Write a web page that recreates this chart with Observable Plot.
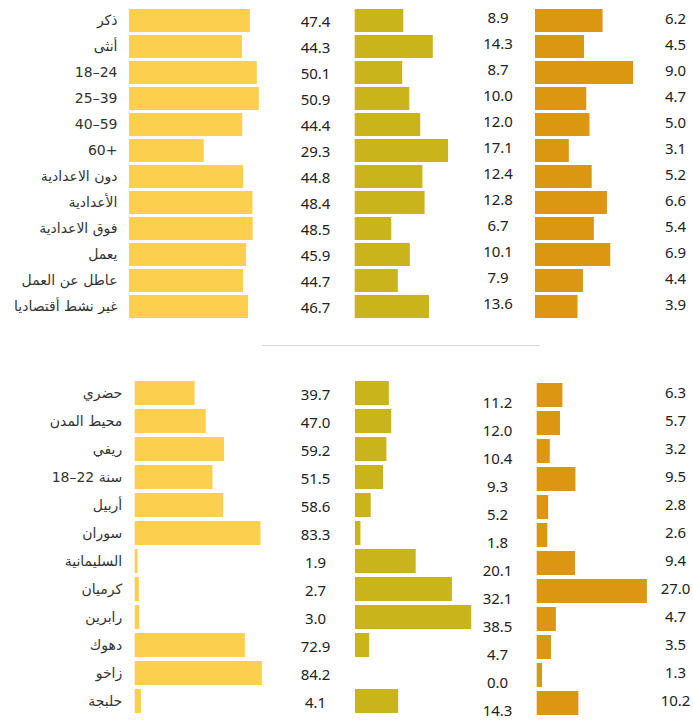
<!DOCTYPE html>
<html><head><meta charset="utf-8">
<script src="https://cdn.jsdelivr.net/npm/d3@7"></script>
<script src="https://cdn.jsdelivr.net/npm/@observablehq/plot@0.6"></script>
<style>
body{margin:0;background:#fff;}
#chart{position:relative;width:693px;height:724px;font-family:"Noto Sans","DejaVu Sans",sans-serif;}
#chart .pl{position:absolute;}
#chart .pl svg{overflow:visible;}
.sep{position:absolute;left:262px;top:345px;width:278px;height:0;border-top:1.5px solid #d4d4d4;}
</style></head><body><div id="chart"><div class="sep"></div></div><script>
const topCategories = ["ذكر","أنثى","18–24","25–39","40–59","60+","دون الاعدادية","الأعدادية","فوق الاعدادية","يعمل","عاطل عن العمل","غير نشط أقتصاديا"];
const topSeries1 = [47.4,44.3,50.1,50.9,44.4,29.3,44.8,48.4,48.5,45.9,44.7,46.7];
const topSeries2 = [8.9,14.3,8.7,10.0,12.0,17.1,12.4,12.8,6.7,10.1,7.9,13.6];
const topSeries3 = [6.2,4.5,9.0,4.7,5.0,3.1,5.2,6.6,5.4,6.9,4.4,3.9];
const bottomCategories = ["حضري","محيط المدن","ريفي","18–22 سنة","أربيل","سوران","السليمانية","كرميان","رابرين","دهوك","زاخو","حلبجة"];
const bottomSeries1 = [39.7,47.0,59.2,51.5,58.6,83.3,1.9,2.7,3.0,72.9,84.2,4.1];
const bottomSeries2 = [11.2,12.0,10.4,9.3,5.2,1.8,20.1,32.1,38.5,4.7,0.0,14.3];
const bottomSeries3 = [6.3,5.7,3.2,9.5,2.8,2.6,9.4,27.0,4.7,3.5,1.3,10.2];
const colors = ["#fdcf4f", "#c9b41c", "#db9612"];

const chart = document.getElementById("chart");

function barPlot(o) {
  const data = o.cats.map((c, i) => ({c, v: o.vals[i]}));
  const xMax = (o.width - o.marginLeft - o.marginRight) / o.pxPerUnit;
  const marks = [
    Plot.barX(data, {x: "v", y: "c", fill: o.color}),
    Plot.text(data, {y: "c", text: d => d.v.toFixed(1), frameAnchor: "right", textAnchor: "middle",
      dy: o.valueDy, fontSize: 15, fill: "#222", fontFamily: '"Noto Sans", sans-serif'})
  ];
  if (o.showLabels) {
    marks.push(Plot.axisY({tickSize: 0, tickPadding: o.tickPadding, label: null, fontSize: 14,
      fill: "#333", fontFamily: '"DejaVu Sans", sans-serif'}));
  }
  const p = Plot.plot({
    width: o.width, height: o.height,
    marginLeft: o.marginLeft, marginRight: o.marginRight, marginTop: o.marginTop, marginBottom: 0,
    x: {domain: [0, xMax], axis: null},
    y: {domain: o.cats, padding: o.padding, axis: null},
    style: {background: "transparent", overflow: "visible"},
    marks
  });
  const wrap = document.createElement("div");
  wrap.className = "pl";
  wrap.style.left = o.left + "px";
  wrap.style.top = o.top + "px";
  wrap.appendChild(p);
  chart.appendChild(wrap);
}

// top panel
barPlot({cats: topCategories, vals: topSeries1, color: colors[0], left: 0, top: 0, width: 340, height: 323,
  marginLeft: 129, marginRight: 25, marginTop: 3.6, padding: 0.116, pxPerUnit: 2.55, valueDy: 1, showLabels: true, tickPadding: 12});
barPlot({cats: topCategories, vals: topSeries2, color: colors[1], left: 340, top: 0, width: 180, height: 323,
  marginLeft: 14.7, marginRight: 22.5, marginTop: 3.6, padding: 0.116, pxPerUnit: 5.46, valueDy: -3});
barPlot({cats: topCategories, vals: topSeries3, color: colors[2], left: 520, top: 0, width: 173, height: 323,
  marginLeft: 15, marginRight: 18, marginTop: 3.6, padding: 0.116, pxPerUnit: 10.9, valueDy: -2});

// bottom panel
barPlot({cats: bottomCategories, vals: bottomSeries1, color: colors[0], left: 0, top: 360, width: 340, height: 361,
  marginLeft: 134.7, marginRight: 25, marginTop: 13, padding: 0.128, pxPerUnit: 1.51, valueDy: 2, showLabels: true, tickPadding: 13});
barPlot({cats: bottomCategories, vals: bottomSeries2, color: colors[1], left: 340, top: 360, width: 180, height: 361,
  marginLeft: 15, marginRight: 23, marginTop: 13, padding: 0.128, pxPerUnit: 3.02, valueDy: 10});
barPlot({cats: bottomCategories, vals: bottomSeries3, color: colors[2], left: 520, top: 360, width: 173, height: 361,
  marginLeft: 16.7, marginRight: 18, marginTop: 17, padding: 0.128, pxPerUnit: 4.08, valueDy: -2});
</script></body></html>
